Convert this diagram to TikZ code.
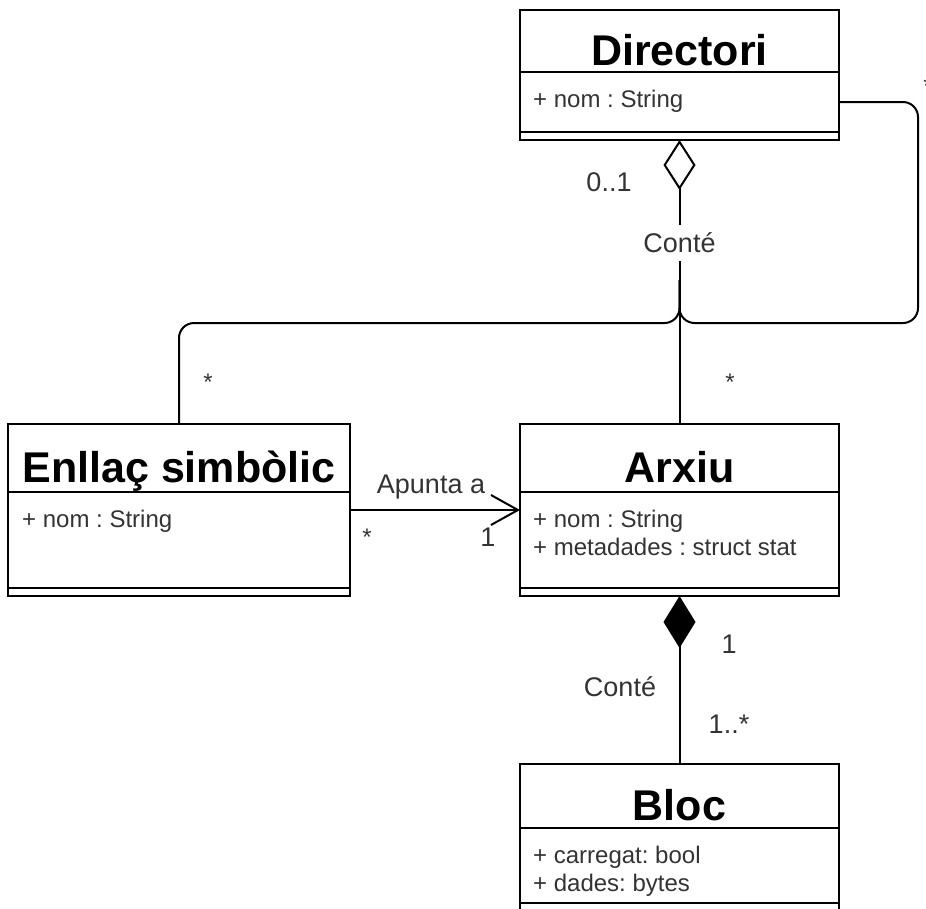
\documentclass[tikz,border=0pt]{standalone}
\usepackage{fontspec}
\setmainfont{Liberation Sans}
\usetikzlibrary{positioning, arrows.meta}
\newcommand{\clw}{319pt}
\frenchspacing

\tikzset{
  box/.style={draw, line width=2pt, outer sep=0pt, inner sep=0pt, minimum width=\clw},
  ttl/.style={font=\fontsize{43}{50}\selectfont\bfseries, anchor=base, inner sep=0pt},
  attr/.style={font=\fontsize{24}{28.5}\selectfont, text=black!80, anchor=base west, inner sep=0pt},
  lbl/.style={font=\fontsize{27}{32}\selectfont, text=black!80, inner sep=0pt},
  mult/.style={font=\fontsize{24}{28}\selectfont, text=black!80, inner sep=0pt},
  conn/.style={line width=2pt, rounded corners=15pt},
}

\begin{document}
\begin{tikzpicture}[x=1pt, y=-1pt]
  \useasboundingbox (0,0) rectangle (926,908);

  \node[box, anchor=north west, minimum height=62pt] (dirHead) at (520,10) {};
  \node[box, below=0pt of dirHead, minimum height=60pt] (dirBody) {};
  \node[box, below=0pt of dirBody, minimum height=8pt] (dirStrip) {};
  \node[ttl] (dirTtl) at ([yshift=7pt]dirHead.south) {Directori};
  \node[attr] (dirAttr) at ([xshift=13pt, yshift=-35pt]dirBody.north west) {+ nom : String};

  \node[box, anchor=north west, minimum width=342pt, minimum height=68pt] (enlHead) at (8,424) {};
  \node[box, below=0pt of enlHead, minimum width=342pt, minimum height=96pt] (enlBody) {};
  \node[box, below=0pt of enlBody, minimum width=342pt, minimum height=8pt] (enlStrip) {};
  \node[ttl] (enlTtl) at ([yshift=10pt]enlHead.south) {Enllaç simbòlic};
  \node[attr] (enlAttr) at ([xshift=14pt, yshift=-35pt]enlBody.north west) {+ nom : String};

  \node[box, anchor=north west, minimum height=68pt] (arxHead) at (520,424) {};
  \node[box, below=0pt of arxHead, minimum height=96pt] (arxBody) {};
  \node[box, below=0pt of arxBody, minimum height=8pt] (arxStrip) {};
  \node[ttl] (arxTtl) at ([yshift=10pt]arxHead.south) {Arxiu};
  \node[attr] (arxAttrA) at ([xshift=13pt, yshift=-35pt]arxBody.north west) {+ nom : String};
  \node[attr] (arxAttrB) at ([yshift=-28.5pt]arxAttrA.base west) {+ metadades : struct stat};

  \node[box, anchor=north west, minimum height=64pt] (blocHead) at (520,764) {};
  \node[box, below=0pt of blocHead, minimum height=75pt] (blocBody) {};
  \node[box, below=0pt of blocBody, minimum height=8pt] (blocStrip) {};
  \node[ttl] (blocTtl) at ([yshift=8pt]blocHead.south) {Bloc};
  \node[attr] (blocAttrA) at ([xshift=13pt, yshift=-35pt]blocBody.north west) {+ carregat: bool};
  \node[attr] (blocAttrB) at ([yshift=-28.5pt]blocAttrA.base west) {+ dades: bytes};

  \coordinate (split) at (dirStrip.south |- 0,280);

  \draw[line width=2pt, {Diamond[open, length=50pt, width=32pt]}-] (dirStrip.south)
    -- node[lbl, fill=white, inner xsep=2pt, inner ysep=8pt, pos=0.363] (aggLbl) {Conté} (arxHead.north);
  \draw[conn] (split) -- (split |- 0,323) -- (enlHead.north |- 0,323) -- (enlHead.north);
  \draw[conn] (dirBody.east) -| (918,323) -- (split |- 0,323) -- (split);

  \draw[line width=2pt, -{Straight Barb[length=27pt, width=30pt]}] ([yshift=-18pt]enlBody.north east)
    -- ([yshift=-18pt]arxBody.north west);
  \draw[line width=2pt, {Diamond[length=52pt, width=32pt]}-] (arxStrip.south) -- (blocHead.north);

  \node[lbl] (aggMult) at (609,182) {0..1};
  \node[mult] (dirMult) at (928,86) {*};
  \node[mult] (enlMult) at (208,382) {*};
  \node[mult] (arxMult) at (730,382) {*};
  \node[lbl] (apLbl) at (431,487) {Apunta a};
  \node[mult] (apSrc) at (367,537) {*};
  \node[lbl] (apDst) at (488,537) {1};
  \node[lbl] (cmpLbl) at (620,687) {Conté};
  \node[lbl] (cmpSrc) at (729,644) {1};
  \node[lbl] (cmpDst) at (729,724) {1..*};
\end{tikzpicture}
\end{document}
